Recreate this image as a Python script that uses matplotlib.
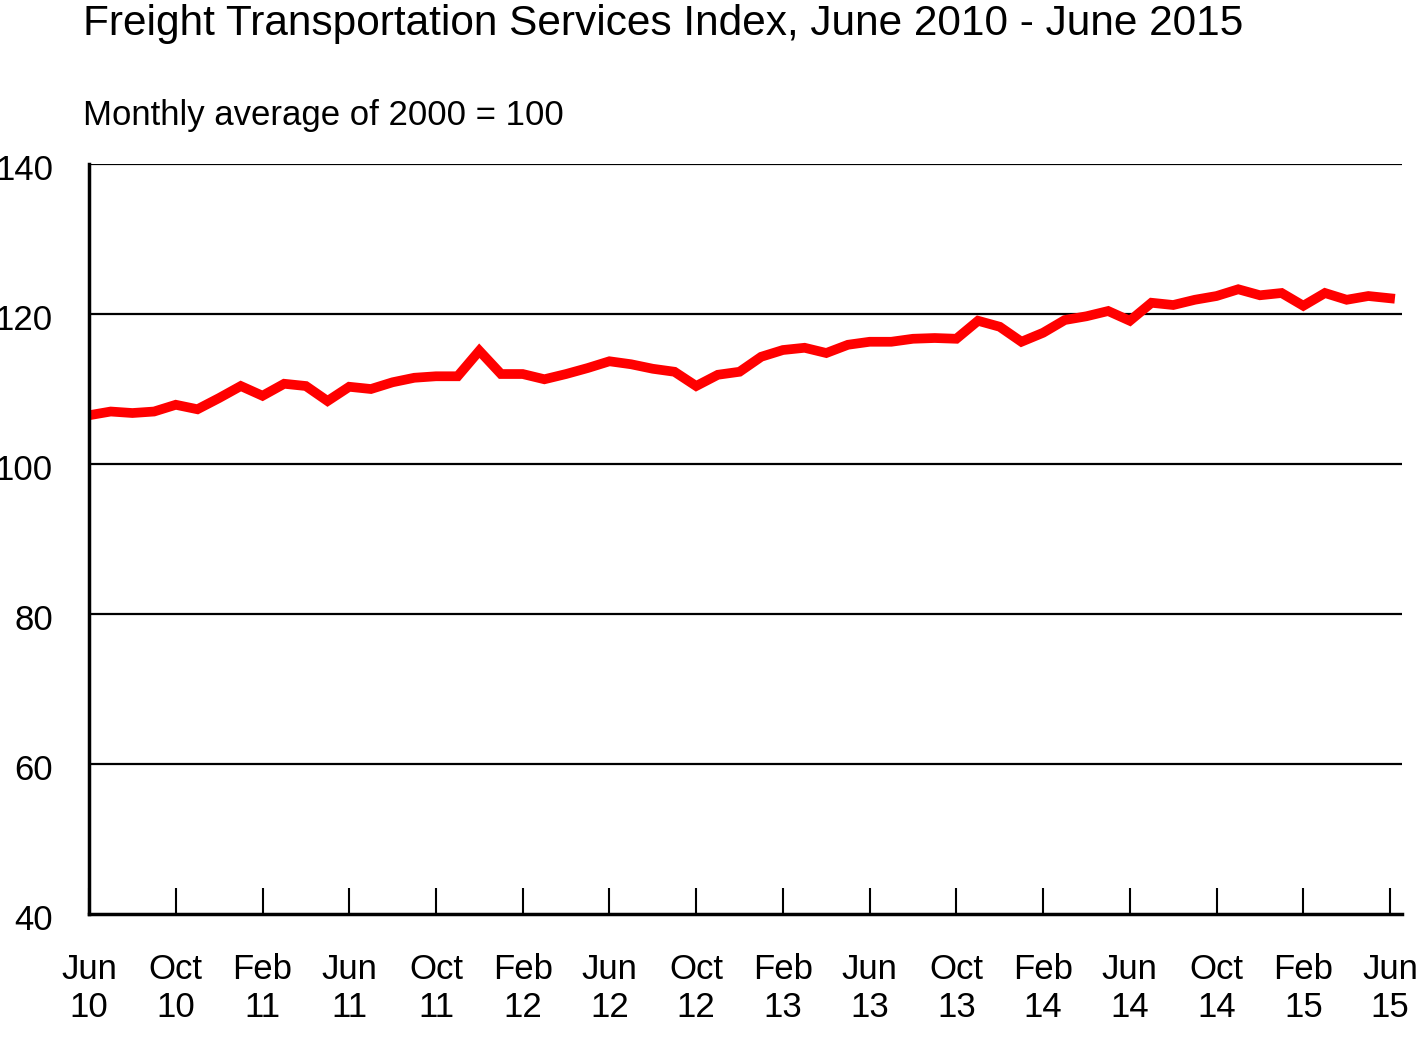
import matplotlib
matplotlib.use("Agg")
import matplotlib.pyplot as plt
import matplotlib.transforms as mtransforms
import numpy as np

plt.rcParams["font.family"] = "Liberation Sans"

values = [106.5,107.0,106.8,107.0,107.9,107.3,108.8,110.4,109.1,110.7,110.4,108.4,
          110.3,110.0,110.9,111.5,111.7,111.7,115.1,112.0,112.0,111.3,112.0,112.8,
          113.7,113.3,112.7,112.3,110.4,111.9,112.3,114.3,115.2,115.5,114.8,115.9,
          116.3,116.3,116.7,116.8,116.7,119.1,118.3,116.3,117.5,119.2,119.7,120.4,
          119.1,121.5,121.2,121.9,122.4,123.3,122.5,122.8,121.1,122.8,121.9,122.4,122.1]
tick_labels = ["Jun\n10","Oct\n10","Feb\n11","Jun\n11","Oct\n11","Feb\n12","Jun\n12","Oct\n12",
               "Feb\n13","Jun\n13","Oct\n13","Feb\n14","Jun\n14","Oct\n14","Feb\n15","Jun\n15"]
yticks = [40, 60, 80, 100, 120, 140]

fig = plt.figure(figsize=(14.2, 10.42), dpi=100)
ax = fig.add_axes([0.0627, 0.1228, 0.9246, 0.7198])
x = np.arange(len(values))
ax.plot(x, values, color="#ff0000", lw=7, solid_joinstyle="miter")
ax.set_xlim(0, 60.55)
ax.set_ylim(40, 140)
ax.set_yticks(yticks)
ax.set_yticklabels([str(v) for v in yticks], fontsize=25)
for v in yticks[1:]:
    ax.axhline(v, color="black", lw=1.6, zorder=0)
ax.set_xticks(np.arange(0, 61, 4))
ax.set_xticklabels(tick_labels, fontsize=25, linespacing=1.2)
ax.tick_params(axis="x", direction="in", length=19, width=1.5, pad=28)
ax.tick_params(axis="y", length=0, pad=26)
offset = mtransforms.ScaledTranslation(0, -6/100, fig.dpi_scale_trans)
for lab in ax.get_yticklabels():
    lab.set_verticalalignment("center")
    lab.set_transform(lab.get_transform() + offset)
for s in ["top", "right"]:
    ax.spines[s].set_visible(False)
ax.spines["left"].set_linewidth(2.5)
ax.spines["bottom"].set_linewidth(2.5)
fig.text(83/1420, 1-24/1042, "Freight Transportation Services Index, June 2010 - June 2015",
         fontsize=30.5, va="center", ha="left")
fig.text(83/1420, 1-115/1042, "Monthly average of 2000 = 100", fontsize=25, va="center", ha="left")
fig.savefig("out.png", dpi=100)
